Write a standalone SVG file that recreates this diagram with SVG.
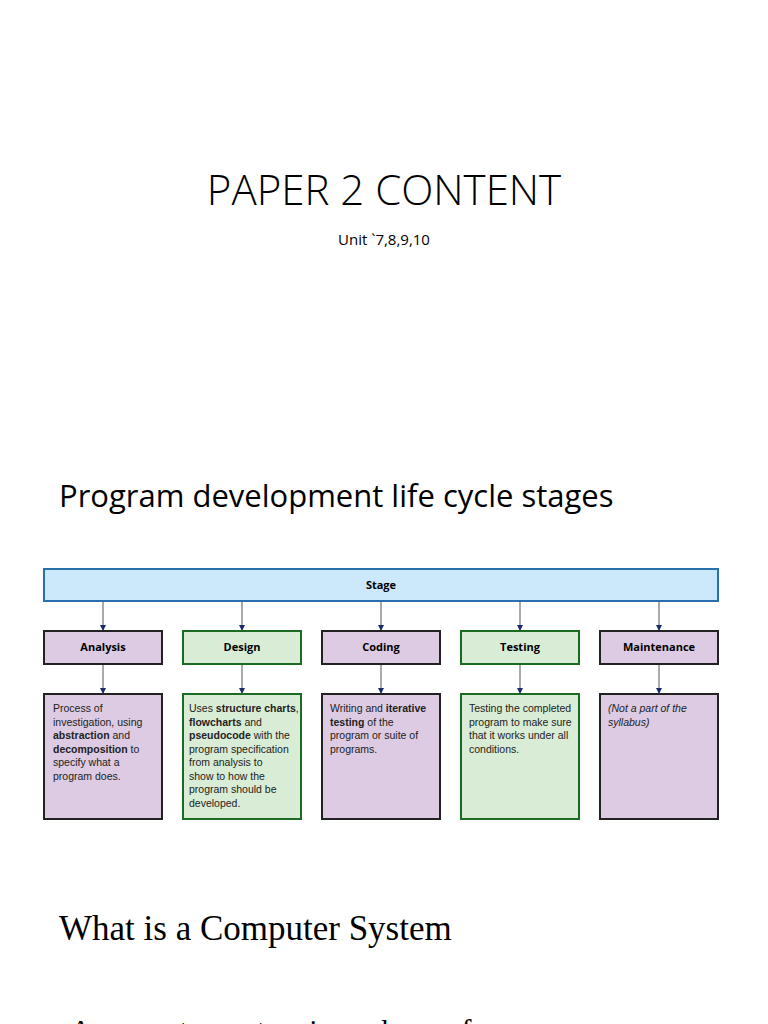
<svg xmlns="http://www.w3.org/2000/svg" width="768" height="1024" viewBox="0 0 768 1024">
<style>
.t{font-family:"Open Sans","Liberation Sans",sans-serif;fill:#000}
.h{font-size:11px;font-weight:bold;text-anchor:middle}
.d{font-size:10.5px;font-family:"Liberation Sans",Arial,sans-serif;fill:#222}
.p{fill:#dccbe3;stroke:#222;stroke-width:2}
.g{fill:#d9ecd5;stroke:#1c6b22;stroke-width:2}
.c line{stroke:#555;stroke-width:1}
</style>
<defs><marker id="a" markerWidth="6" markerHeight="6" refX="5" refY="3" orient="auto"><path d="M0,0 L6,3 L0,6Z" fill="#1a2a6a"/></marker></defs>
<rect width="768" height="1024" fill="#fff"/>
<text class="t" x="384" y="205" font-size="42" text-anchor="middle" font-weight="300">PAPER 2 CONTENT</text>
<text class="t" x="384" y="245" font-size="15" text-anchor="middle">Unit `7,8,9,10</text>
<text class="t" x="59" y="507" font-size="31">Program development life cycle stages</text>
<g id="stage"><rect x="44" y="569" width="674" height="32" fill="#cbe9fa" stroke="#2a6fad" stroke-width="2"/><text class="t h" x="381" y="589">Stage</text></g>
<g class="c" id="connectors">
<line x1="103" y1="602" x2="103" y2="630" marker-end="url(#a)"/>
<line x1="242" y1="602" x2="242" y2="630" marker-end="url(#a)"/>
<line x1="381" y1="602" x2="381" y2="630" marker-end="url(#a)"/>
<line x1="520" y1="602" x2="520" y2="630" marker-end="url(#a)"/>
<line x1="659" y1="602" x2="659" y2="630" marker-end="url(#a)"/>
<line x1="103" y1="665" x2="103" y2="693" marker-end="url(#a)"/>
<line x1="242" y1="665" x2="242" y2="693" marker-end="url(#a)"/>
<line x1="381" y1="665" x2="381" y2="693" marker-end="url(#a)"/>
<line x1="520" y1="665" x2="520" y2="693" marker-end="url(#a)"/>
<line x1="659" y1="665" x2="659" y2="693" marker-end="url(#a)"/>
</g>
<g id="analysis"><rect class="p" x="44" y="631" width="118" height="33"/><text class="t h" x="103" y="651">Analysis</text></g>
<g id="design"><rect class="g" x="183" y="631" width="118" height="33"/><text class="t h" x="242" y="651">Design</text></g>
<g id="coding"><rect class="p" x="322" y="631" width="118" height="33"/><text class="t h" x="381" y="651">Coding</text></g>
<g id="testing"><rect class="g" x="461" y="631" width="118" height="33"/><text class="t h" x="520" y="651">Testing</text></g>
<g id="maintenance"><rect class="p" x="600" y="631" width="118" height="33"/><text class="t h" x="659" y="651">Maintenance</text></g>
<g id="analysis-desc"><rect class="p" x="44" y="694" width="118" height="125"/>
<text class="d" x="53" y="712">Process of</text>
<text class="d" x="53" y="725.5">investigation, using</text>
<text class="d" x="53" y="739"><tspan font-weight="bold">abstraction</tspan> and</text>
<text class="d" x="53" y="752.5"><tspan font-weight="bold">decomposition</tspan> to</text>
<text class="d" x="53" y="766">specify what a</text>
<text class="d" x="53" y="779.5">program does.</text></g>
<g id="design-desc"><rect class="g" x="183" y="694" width="118" height="125"/>
<text class="d" x="189" y="712">Uses <tspan font-weight="bold">structure charts</tspan>,</text>
<text class="d" x="189" y="725.5"><tspan font-weight="bold">flowcharts</tspan> and</text>
<text class="d" x="189" y="739"><tspan font-weight="bold">pseudocode</tspan> with the</text>
<text class="d" x="189" y="752.5">program specification</text>
<text class="d" x="189" y="766">from analysis to</text>
<text class="d" x="189" y="779.5">show to how the</text>
<text class="d" x="189" y="793">program should be</text>
<text class="d" x="189" y="806.5">developed.</text></g>
<g id="coding-desc"><rect class="p" x="322" y="694" width="118" height="125"/>
<text class="d" x="330" y="712">Writing and <tspan font-weight="bold">iterative</tspan></text>
<text class="d" x="330" y="725.5"><tspan font-weight="bold">testing</tspan> of the</text>
<text class="d" x="330" y="739">program or suite of</text>
<text class="d" x="330" y="752.5">programs.</text></g>
<g id="testing-desc"><rect class="g" x="461" y="694" width="118" height="125"/>
<text class="d" x="469" y="712">Testing the completed</text>
<text class="d" x="469" y="725.5">program to make sure</text>
<text class="d" x="469" y="739">that it works under all</text>
<text class="d" x="469" y="752.5">conditions.</text></g>
<g id="maintenance-desc"><rect class="p" x="600" y="694" width="118" height="125"/>
<text class="d" x="608" y="712" font-style="italic">(Not a part of the</text>
<text class="d" x="608" y="725.5" font-style="italic">syllabus)</text></g>
<text x="59" y="940" font-size="35" font-family="'Liberation Serif','Times New Roman',serif" fill="#000">What is a Computer System</text>
<text x="70" y="1040" font-size="30" font-family="'Liberation Serif','Times New Roman',serif" fill="#000">A computer system is made up of</text>
</svg>
